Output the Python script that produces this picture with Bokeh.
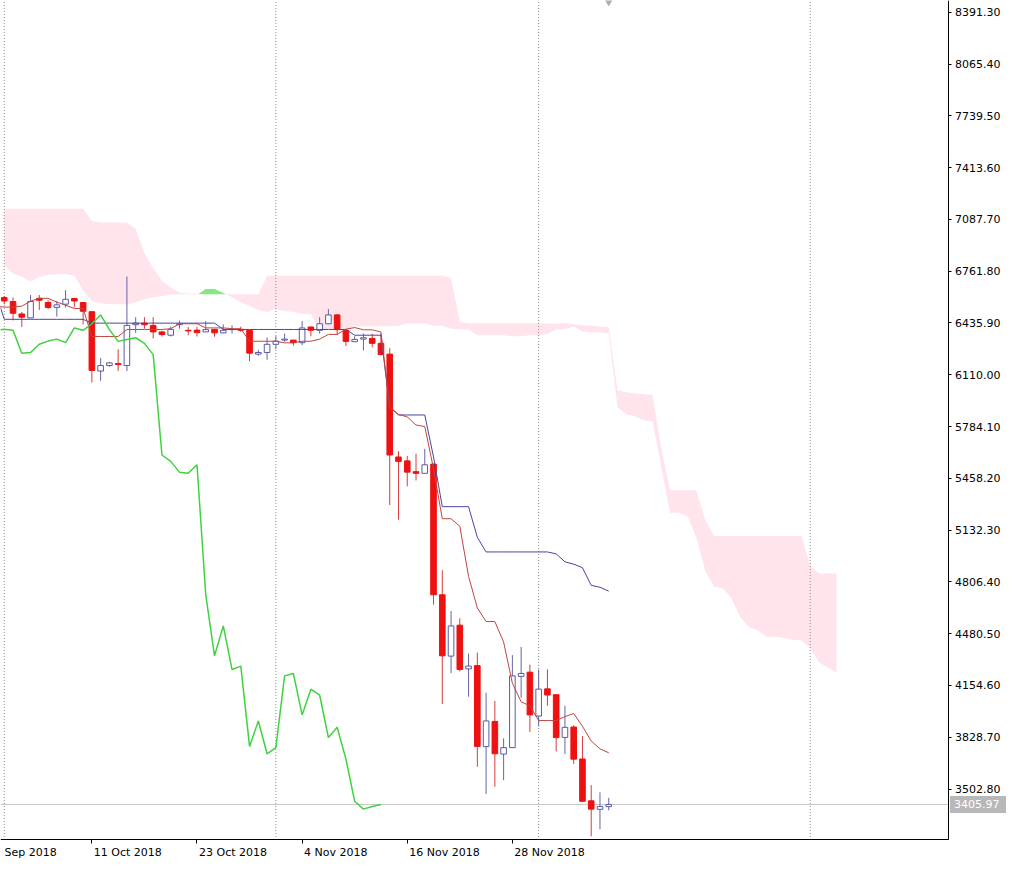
from bokeh.plotting import figure
from bokeh.models import FixedTicker, Range1d, ColumnDataSource
from bokeh.core.properties import value
from bokeh.embed import file_html
from bokeh.resources import INLINE

# ---------------- data (index 0 = 1 Oct 2018, one bar per day) ----------------
open_ = [6595.7, 6571.0, 6492.7, 6468.0, 6591.3, 6564.8, 6534.0, 6554.3, 6589.5, 6564.8,
         6507.0, 6133.3, 6168.0, 6180.3, 6168.0, 6424.9, 6435.3, 6420.5, 6379.8, 6358.8,
         6424.9, 6389.8, 6391.0, 6379.8, 6395.9, 6373.7, 6394.1, 6395.9, 6389.8, 6240.0,
         6250.4, 6301.6, 6328.1, 6328.1, 6312.0, 6410.6, 6389.8, 6431.0, 6486.5, 6389.8,
         6318.2, 6334.3, 6338.6, 6307.8, 6240.0, 5592.7, 5568.1, 5500.3, 5489.8, 5547.7,
         4725.5, 4339.6, 4534.2, 4259.4, 4279.7, 3769.9, 3928.3, 3723.1, 3763.7, 4211.9,
         4238.4, 3962.2, 4133.5, 4096.5, 3827.9, 3893.2, 3692.2, 3429.0, 3375.4, 3392.2]
high_ = [6605.5, 6595.7, 6505.0, 6611.7, 6611.7, 6579.0, 6574.6, 6642.5, 6591.3, 6566.7,
         6508.3, 6215.3, 6190.8, 6270.9, 6728.8, 6472.4, 6472.4, 6472.4, 6387.8, 6412.4,
         6451.4, 6410.6, 6412.4, 6447.7, 6397.1, 6426.6, 6420.5, 6412.4, 6391.0, 6266.5,
         6344.8, 6352.7, 6369.4, 6329.4, 6447.7, 6412.4, 6472.4, 6523.5, 6492.7, 6391.0,
         6352.7, 6369.4, 6369.4, 6369.4, 6277.0, 5629.7, 5598.9, 5613.1, 5644.0, 5549.6,
         4879.6, 4623.1, 4577.4, 4355.6, 4361.7, 4108.9, 4057.7, 3821.7, 4345.6, 4396.8,
         4285.9, 4255.1, 4256.9, 4097.8, 4026.9, 3903.7, 3835.8, 3527.6, 3482.5, 3447.7]
low_ = [6554.3, 6451.6, 6410.6, 6465.0, 6517.4, 6523.5, 6476.0, 6534.0, 6534.0, 6426.6,
        6061.2, 6071.7, 6160.0, 6133.3, 6133.3, 6373.7, 6400.2, 6338.6, 6350.8, 6350.8,
        6400.2, 6359.0, 6350.8, 6378.6, 6349.0, 6372.5, 6369.4, 6381.6, 6195.2, 6229.4,
        6204.9, 6270.8, 6318.2, 6293.6, 6297.3, 6352.7, 6369.4, 6428.0, 6359.0, 6291.1,
        6317.0, 6263.0, 6283.1, 6233.8, 5290.7, 5198.2, 5407.8, 5444.8, 5487.9, 4663.8,
        4037.5, 4232.3, 4242.8, 4084.3, 3643.0, 3472.2, 3517.2, 3558.5, 3761.9, 4078.1,
        3862.4, 3897.5, 4026.9, 3739.1, 3723.1, 3661.4, 3424.7, 3205.2, 3250.0, 3369.2]
close_ = [6574.6, 6497.2, 6472.4, 6571.0, 6579.0, 6534.0, 6550.0, 6585.0, 6574.6, 6509.5,
          6137.0, 6168.0, 6184.6, 6174.1, 6420.5, 6435.3, 6424.9, 6379.8, 6363.1, 6395.7,
          6431.0, 6386.0, 6375.6, 6394.1, 6373.7, 6389.8, 6395.9, 6389.8, 6246.1, 6250.4,
          6301.6, 6322.0, 6334.3, 6312.0, 6404.6, 6389.8, 6431.0, 6486.5, 6394.1, 6320.1,
          6332.4, 6343.0, 6307.8, 6236.9, 5605.1, 5565.0, 5497.2, 5489.8, 5543.4, 4725.5,
          4341.4, 4529.3, 4255.1, 4276.6, 3771.1, 3931.4, 3724.9, 3763.7, 4215.0, 4230.4,
          3969.6, 4131.7, 4094.7, 3826.6, 3891.4, 3691.0, 3425.9, 3376.6, 3393.4, 3405.97]

# Tenkan-sen / Kijun-sen, index -1 .. 69
tenkan = [6542, 6536, 6536, 6542, 6573, 6591, 6591, 6567, 6548, 6527,
          6527, 6351, 6351, 6351, 6351, 6395, 6395, 6395, 6395, 6395,
          6400, 6431, 6431, 6431, 6405, 6405, 6405, 6400, 6400, 6321,
          6321, 6321, 6321, 6311, 6311, 6321, 6321, 6334, 6364, 6364,
          6397, 6407, 6393, 6393, 6379, 5907, 5861, 5845, 5794, 5784,
          5519, 5204, 5204, 5157, 4841, 4643, 4557, 4557, 4428, 4169,
          4052, 4027, 3934, 3934, 3934, 3959, 3978, 3898, 3805, 3756, 3731]
kijun = [6628, 6459, 6459, 6459, 6459, 6459, 6459, 6459, 6459, 6459,
         6459, 6435, 6435, 6435, 6435, 6435, 6435, 6435, 6435, 6435,
         6435, 6435, 6435, 6435, 6435, 6435, 6395, 6395, 6395, 6395,
         6395, 6395, 6395, 6395, 6395, 6395, 6395, 6395, 6395, 6395,
         6395, 6359, 6359, 6359, 6359, 5907, 5857, 5857, 5857, 5857,
         5593, 5280, 5280, 5280, 5280, 5087, 4995, 4995, 4995, 4995,
         4995, 4995, 4995, 4995, 4983, 4933, 4918, 4896, 4785, 4773, 4748]

# Senkou span A / B, index 0 .. 95
span_a = [6801, 6745, 6727, 6696, 6727, 6739, 6742, 6744, 6733, 6641,
          6573, 6561, 6554, 6554, 6554, 6567, 6585, 6598, 6604, 6613,
          6616, 6616, 6613, 6650, 6650, 6625, 6598, 6567, 6542, 6517,
          6505, 6524, 6511, 6505, 6493, 6493, 6394, 6394, 6394, 6394,
          6415, 6415, 6415, 6415, 6415, 6418, 6433, 6433, 6433, 6419,
          6419, 6400, 6397, 6397, 6358, 6358, 6358, 6358, 6353, 6353,
          6358, 6358, 6367, 6397, 6397, 6414, 6383, 6376, 6376, 6369,
          5907, 5861, 5849, 5824, 5815, 5531, 5241, 5241, 5219, 5087,
          4878, 4777, 4767, 4705, 4585, 4523, 4502, 4462, 4462, 4455,
          4443, 4437, 4391, 4301, 4268, 4237]
span_b = [7154, 7154, 7154, 7154, 7154, 7154, 7154, 7154, 7154, 7154,
          7078, 7068, 7068, 7068, 7066, 7029, 6875, 6782, 6702, 6659,
          6627, 6622, 6619, 6616, 6616, 6616, 6616, 6616, 6616, 6616,
          6733, 6733, 6733, 6733, 6733, 6733, 6733, 6733, 6733, 6733,
          6733, 6733, 6733, 6733, 6733, 6733, 6733, 6733, 6733, 6733,
          6733, 6721, 6443, 6434, 6434, 6434, 6434, 6434, 6434, 6434,
          6434, 6434, 6431, 6431, 6437, 6428, 6422, 6419, 6413, 6411,
          6012, 6000, 5994, 5988, 5982, 5648, 5383, 5383, 5383, 5383,
          5198, 5095, 5095, 5095, 5095, 5095, 5095, 5095, 5095, 5095,
          5095, 5095, 4908, 4859, 4859, 4859]

date_labels = ["Sep 2018", "11 Oct 2018", "23 Oct 2018", "4 Nov 2018", "16 Nov 2018", "28 Nov 2018"]
date_index = [-2, 10, 22, 34, 46, 58]
month_starts = [0, 31, 61, 92]
price_ticks = [8391.30, 8065.40, 7739.50, 7413.60, 7087.70, 6761.80, 6435.90, 6110.00,
               5784.10, 5458.20, 5132.30, 4806.40, 4480.50, 4154.60, 3828.70, 3502.80]
last_price = 3405.97

# ---------------- geometry ----------------
W, H = 1008, 862
REF_W, REF_H = 1016, 880          # reference window region squeezed into the canvas
PX_DAY, PX_PRICE = 8.83, 6.1643   # reference pixels per bar / price per pixel
X0 = -0.43
X1 = X0 + REF_W / PX_DAY
Y1 = 8465.3
Y0 = Y1 - REF_H * PX_PRICE
AXIS_X = X0 + 956 / PX_DAY        # price scale position
AXIS_Y = Y1 - 857 * PX_PRICE      # time scale position
cpx = W / (X1 - X0)               # canvas px per bar
cpy = (Y1 - Y0) / H               # price per canvas px

FONT = "DejaVu Sans"
p = figure(width=W, height=H, x_range=Range1d(X0, X1), y_range=Range1d(Y0, Y1),
           y_axis_location="right", output_backend="svg", toolbar_location=None,
           min_border_left=0, min_border_top=0, min_border_right=0, min_border_bottom=0)
p.grid.visible = False
p.outline_line_color = None
p.background_fill_color = "white"
p.border_fill_color = "white"

# cloud: split into pink (B above A) and green (A above B) pieces
def cloud_pieces(xs, a, b):
    pieces = []
    cur, sign = [], None
    for i in range(len(xs)):
        s = b[i] >= a[i]
        if cur and s != sign:
            d0 = b[i - 1] - a[i - 1]
            d1 = b[i] - a[i]
            t = d0 / (d0 - d1)
            xc = xs[i - 1] + t * (xs[i] - xs[i - 1])
            yc = a[i - 1] + t * (a[i] - a[i - 1])
            cur.append((xc, yc, yc))
            pieces.append((sign, cur))
            cur = [(xc, yc, yc)]
        sign = s
        cur.append((xs[i], a[i], b[i]))
    pieces.append((sign, cur))
    return pieces

cx = list(range(len(span_a)))
for pink, seg in cloud_pieces(cx, span_a, span_b):
    px = [q[0] for q in seg] + [q[0] for q in seg[::-1]]
    py = [q[1] for q in seg] + [q[2] for q in seg[::-1]]
    p.patch(px, py, fill_color="#ffe4eb" if pink else "#84e884", line_color=None)

# bid line & month separators
p.segment(x0=[X0], y0=[last_price], x1=[AXIS_X], y1=[last_price], line_color="#c8c8c8", line_width=1)
p.segment(x0=month_starts, y0=[AXIS_Y] * len(month_starts), x1=month_starts, y1=[Y1] * len(month_starts),
          line_color="#8a8a8a", line_width=1, line_dash="1 2")

# candles
n = len(open_)
xs = list(range(n))
up = [close_[i] >= open_[i] for i in range(n)]
src_up = ColumnDataSource(dict(
    x=[xs[i] for i in range(n) if up[i]],
    top=[close_[i] for i in range(n) if up[i]],
    bot=[open_[i] for i in range(n) if up[i]],
    hi=[high_[i] for i in range(n) if up[i]],
    lo=[low_[i] for i in range(n) if up[i]]))
src_dn = ColumnDataSource(dict(
    x=[xs[i] for i in range(n) if not up[i]],
    top=[open_[i] for i in range(n) if not up[i]],
    bot=[close_[i] for i in range(n) if not up[i]],
    hi=[high_[i] for i in range(n) if not up[i]],
    lo=[low_[i] for i in range(n) if not up[i]]))
p.segment(x0="x", y0="hi", x1="x", y1="lo", source=src_up, line_color="#6464aa", line_width=1)
p.segment(x0="x", y0="hi", x1="x", y1="lo", source=src_dn, line_color="#d83c3c", line_width=1)
p.vbar(x="x", width=0.64, top="top", bottom="bot", source=src_up, fill_color="white", line_color="#5a5aa4", line_width=1)
p.vbar(x="x", width=0.64, top="top", bottom="bot", source=src_dn, fill_color="#ee1111", line_color="#ee1111", line_width=1)

# ichimoku lines
lx = list(range(-1, n))
p.line(lx, kijun, line_color="#4646a0", line_width=1)
p.line(lx, tenkan, line_color="#c0453f", line_width=1)
p.line([i - 26 for i in xs], close_, line_color="#3fd23f", line_width=1.5)

# chart shift marker
p.scatter([n - 1], [Y1], marker="inverted_triangle", size=9, fill_color="#b0b0b0", line_color="#b0b0b0")

# price scale (right), drawn at a fixed place so the last-price tag can sit over it
yax = p.yaxis[0]
yax.fixed_location = AXIS_X
yax.bounds = (AXIS_Y, Y1)
yax.ticker = FixedTicker(ticks=price_ticks)
yax.major_label_overrides = {t: f"{t:.2f}" for t in price_ticks}
yax.axis_line_color = "black"
yax.major_tick_line_color = "black"
yax.major_tick_out = 3
yax.major_tick_in = 0
yax.minor_tick_line_color = None
yax.major_label_standoff = 3
yax.major_label_text_font = FONT
yax.major_label_text_font_size = "11px"
yax.major_label_text_color = "black"

# time scale (bottom); labels start at their tick like the reference
label_w = {"Sep 2018": 52.3, "11 Oct 2018": 68.0, "23 Oct 2018": 68.0,
           "4 Nov 2018": 63.4, "16 Nov 2018": 70.4, "28 Nov 2018": 70.4}
label_left = [X0 + 4 / cpx] + [date_index[k] + 2 / cpx for k in range(1, len(date_index))]
xt = [label_left[k] + (label_w[date_labels[k]] / 2) / cpx for k in range(len(date_labels))]
xax = p.xaxis[0]
xax.fixed_location = AXIS_Y
xax.bounds = (X0, AXIS_X)
xax.ticker = FixedTicker(ticks=xt, minor_ticks=date_index)
xax.major_label_overrides = {xt[k]: date_labels[k] for k in range(len(xt))}
xax.axis_line_color = "black"
xax.major_tick_line_color = None
xax.major_tick_out = 0
xax.major_tick_in = 0
xax.minor_tick_line_color = "black"
xax.minor_tick_out = 4
xax.minor_tick_in = 0
xax.major_label_standoff = 2
xax.major_label_text_font = FONT
xax.major_label_text_font_size = "11px"
xax.major_label_text_color = "black"

# last price tag on the price scale
p.quad(left=[AXIS_X + 1 / cpx], right=[AXIS_X + 57 / cpx],
       bottom=[last_price - 8.5 * cpy], top=[last_price + 8.5 * cpy],
       fill_color="#b8b8b8", line_color=None)
p.text(x=[AXIS_X + 5 / cpx], y=[last_price], text=[f"{last_price:.2f}"], text_color="white",
       text_font=value(FONT), text_font_size="11px", text_baseline="middle", text_align="left")

open("out.html", "w").write(file_html(p, INLINE))
